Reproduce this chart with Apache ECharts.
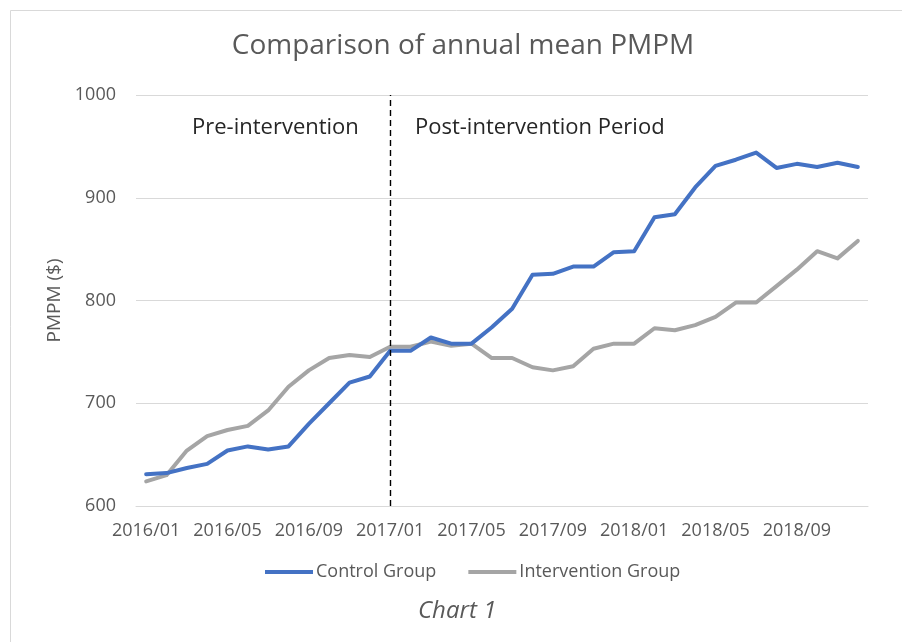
<!DOCTYPE html>
<html>
<head>
<meta charset="utf-8">
<script src="https://cdn.jsdelivr.net/npm/echarts@6/dist/echarts.min.js"></script>
<style>
html,body{margin:0;padding:0;background:#fff;}
#c{width:902px;height:642px;}
</style>
</head>
<body>
<div id="c"></div>
<script>
var months = ['2016/01','2016/02','2016/03','2016/04','2016/05','2016/06','2016/07','2016/08','2016/09','2016/10','2016/11','2016/12',
'2017/01','2017/02','2017/03','2017/04','2017/05','2017/06','2017/07','2017/08','2017/09','2017/10','2017/11','2017/12',
'2018/01','2018/02','2018/03','2018/04','2018/05','2018/06','2018/07','2018/08','2018/09','2018/10','2018/11','2018/12'];
var controlGroup = [631,632,637,641,654,658,655,658,680,700,720,726,751,751,764,758,758,774,792,825,826,833,833,847,848,881,884,910,931,937,944,929,933,930,934,930];
var interventionGroup = [624,630,654,668,674,678,693,716,732,744,747,745,755,755,760,756,758,744,744,735,732,736,753,758,758,773,771,776,784,798,798,814,830,848,841,858];
var interventionStart = '2017/01';
var yTicks = {min: 600, max: 1000, interval: 100};

var FONT = '"Open Sans", sans-serif';
var chart = echarts.init(document.getElementById('c'), null, {renderer: 'canvas'});
chart.setOption({
  animation: false,
  backgroundColor: '#fff',
  title: {
    text: 'Comparison of annual mean PMPM',
    left: 463, top: 32, textAlign: 'center', padding: 0,
    textStyle: {fontFamily: FONT, fontSize: 28, fontWeight: 'normal', color: '#595959'}
  },
  legend: {
    data: [
      {name: 'Control Group', icon: 'rect'},
      {name: 'Intervention Group', icon: 'rect'}
    ],
    left: 260, top: 558,
    itemWidth: 48, itemHeight: 4, itemGap: 32,
    textStyle: {fontFamily: FONT, fontSize: 18, color: '#595959', padding: [0,0,0,-2]}
  },
  grid: {left: 136, right: 34, top: 95, bottom: 136},
  xAxis: {
    type: 'category',
    data: months,
    boundaryGap: true,
    axisLine: {lineStyle: {color: '#d9d9d9', width: 1}},
    axisTick: {show: false},
    axisLabel: {interval: 3, color: '#595959', fontFamily: FONT, fontSize: 18, margin: 16}
  },
  yAxis: {
    type: 'value',
    min: yTicks.min, max: yTicks.max, interval: yTicks.interval,
    name: 'PMPM ($)', nameLocation: 'middle', nameGap: 72, nameRotate: 90,
    nameTextStyle: {fontFamily: FONT, fontSize: 19, color: '#595959'},
    axisLine: {show: false},
    axisTick: {show: false},
    axisLabel: {color: '#595959', fontFamily: FONT, fontSize: 18, margin: 20, formatter: function (v) { return String(v); }},
    splitLine: {lineStyle: {color: '#d9d9d9', width: 1}}
  },
  series: [
    {
      name: 'Control Group', type: 'line', data: controlGroup,
      showSymbol: false, symbol: 'none',
      lineStyle: {color: '#4472C4', width: 4, join: 'round', cap: 'round'},
      itemStyle: {color: '#4472C4'},
      z: 3,
      markLine: {
        silent: true, symbol: ['none','none'],
        label: {show: false},
        lineStyle: {color: '#000', type: [6,4], width: 1.4},
        data: [{xAxis: interventionStart}]
      }
    },
    {
      name: 'Intervention Group', type: 'line', data: interventionGroup,
      showSymbol: false, symbol: 'none',
      lineStyle: {color: '#A5A5A5', width: 4, join: 'round', cap: 'round'},
      itemStyle: {color: '#A5A5A5'},
      z: 2
    }
  ],
  graphic: [
    {type: 'line', shape: {x1: 10.5, y1: 10.5, x2: 902, y2: 10.5}, style: {stroke: '#d9d9d9', lineWidth: 1}},
    {type: 'line', shape: {x1: 10.5, y1: 10.5, x2: 10.5, y2: 642}, style: {stroke: '#d9d9d9', lineWidth: 1}},
    {type: 'text', left: 192, top: 117, style: {text: 'Pre-intervention', font: '22px "Open Sans", sans-serif', fill: '#262626'}},
    {type: 'text', left: 415, top: 117, style: {text: 'Post-intervention Period', font: '22px "Open Sans", sans-serif', fill: '#262626'}},
    {type: 'text', left: 418, top: 599, style: {text: 'Chart 1', font: 'italic 24px "Open Sans", sans-serif', fill: '#595959'}}
  ]
});
</script>
</body>
</html>
